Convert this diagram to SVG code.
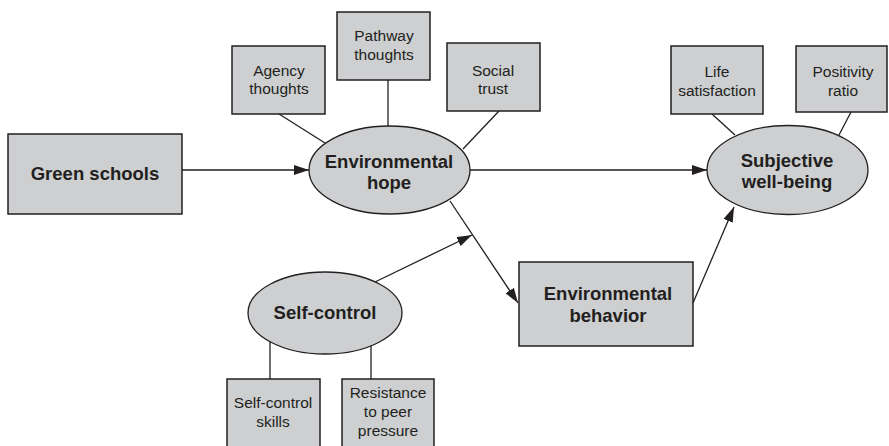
<svg xmlns="http://www.w3.org/2000/svg" width="889" height="446" viewBox="0 0 889 446">
<defs>
<style>
.box{fill:#cdcfd1;stroke:#231f20;stroke-width:1.5}
.ell{fill:#cdcfd1;stroke:#231f20;stroke-width:1.3}
.ln{stroke:#231f20;stroke-width:1.3;fill:none}
.ar{stroke:#231f20;stroke-width:1.3;fill:none;marker-end:url(#ah)}
.s{font-family:"Liberation Sans",Arial,sans-serif;font-size:15.5px;fill:#231f20;text-anchor:middle}
.b{font-family:"Liberation Sans",Arial,sans-serif;font-size:18.5px;font-weight:bold;fill:#231f20;text-anchor:middle}
</style>
<marker id="ah" markerUnits="userSpaceOnUse" markerWidth="16" markerHeight="12" refX="15" refY="5" orient="auto">
<path d="M0,0 L15,5 L0,10 z" fill="#231f20"/>
</marker>
</defs>
<rect width="889" height="446" fill="#fff"/>
<g id="connectors">
<line class="ln" x1="279" y1="114" x2="325" y2="143"/>
<line class="ln" x1="388" y1="80" x2="388" y2="126"/>
<line class="ln" x1="499" y1="111" x2="463" y2="149"/>
<line class="ln" x1="712" y1="114" x2="735" y2="135"/>
<line class="ln" x1="851" y1="112" x2="839" y2="135"/>
<line class="ln" x1="270" y1="342" x2="270" y2="379"/>
<line class="ln" x1="371" y1="346" x2="371" y2="379"/>
<line class="ar" x1="182" y1="170" x2="309" y2="170"/>
<line class="ar" x1="470" y1="170" x2="707" y2="170"/>
<line class="ar" x1="450" y1="201" x2="518" y2="303"/>
<line class="ar" x1="375" y1="282" x2="472" y2="235"/>
<line class="ar" x1="693" y1="303" x2="734" y2="207"/>
</g>
<g id="green-schools"><rect class="box" x="8" y="134" width="174" height="80"/><text class="b" x="95" y="180">Green schools</text></g>
<g id="agency"><rect class="box" x="232" y="46" width="93" height="68"/><text class="s" x="279" y="76">Agency</text><text class="s" x="279" y="94">thoughts</text></g>
<g id="pathway"><rect class="box" x="337" y="12" width="93" height="68"/><text class="s" x="384" y="41">Pathway</text><text class="s" x="384" y="60">thoughts</text></g>
<g id="social-trust"><rect class="box" x="447" y="43" width="93" height="68"/><text class="s" x="493" y="76">Social</text><text class="s" x="493" y="94">trust</text></g>
<g id="env-hope"><ellipse class="ell" cx="389.5" cy="170" rx="80.5" ry="44"/><text class="b" x="389" y="168">Environmental</text><text class="b" x="389" y="189">hope</text></g>
<g id="life-sat"><rect class="box" x="671" y="46" width="92" height="68"/><text class="s" x="717" y="77">Life</text><text class="s" x="717" y="96">satisfaction</text></g>
<g id="positivity"><rect class="box" x="796" y="46" width="91" height="66"/><text class="s" x="843" y="77">Positivity</text><text class="s" x="843" y="96">ratio</text></g>
<g id="swb"><ellipse class="ell" cx="787.5" cy="170" rx="80.5" ry="44.5"/><text class="b" x="787" y="167">Subjective</text><text class="b" x="787" y="188">well-being</text></g>
<g id="self-control"><ellipse class="ell" cx="325" cy="313" rx="77" ry="41"/><text class="b" x="325" y="319">Self-control</text></g>
<g id="env-behavior"><rect class="box" x="519" y="262" width="174" height="84"/><text class="b" x="608" y="300">Environmental</text><text class="b" x="608" y="322">behavior</text></g>
<g id="sc-skills"><rect class="box" x="227" y="379" width="93" height="72"/><text class="s" x="273" y="408">Self-control</text><text class="s" x="273" y="427">skills</text></g>
<g id="resistance"><rect class="box" x="342" y="379" width="92" height="72"/><text class="s" x="388" y="398">Resistance</text><text class="s" x="388" y="417">to peer</text><text class="s" x="388" y="436">pressure</text></g>
</svg>
